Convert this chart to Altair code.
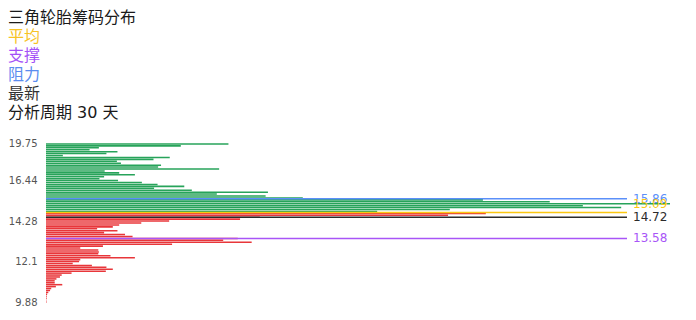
import altair as alt
import pandas as pd

# ---------------- data ----------------
header_lines = ["三角轮胎筹码分布", "平均", "支撑", "阻力", "最新", "分析周期 30 天"]
header_colors = ["#1a1a1a", "#f7c325", "#a451f7", "#5b8def", "#333333", "#1a1a1a"]

# chip share (% of axis) per price bin, listed from the highest bin (top) down
chips_above = [31.4, 23.2, 9.1, 7.5, 12.3, 10.4, 2.9, 21.3, 18.5, 12.2,
               12.9, 19.8, 19.3, 29.8, 10.1, 12.6, 15.3, 10.0, 9.2, 12.4,
               16.5, 19.2, 23.8, 18.6, 25.1, 38.2, 29.4, 37.8, 44.2, 75.2,
               86.7, 107.4, 92.4, 99.0, 69.5, 57.0]
chips_below = [75.7, 69.2, 36.8, 33.4, 21.2, 16.4, 12.6, 11.5, 8.8, 12.3,
               10.0, 13.6, 14.9, 33.0, 30.5, 35.4, 21.7, 9.8, 5.9, 9.0,
               9.1, 9.0, 11.1, 15.3, 5.9, 5.7, 4.6, 7.9, 10.4, 11.5,
               10.3, 4.4, 2.7, 2.4, 1.8, 1.5, 1.5, 2.8, 1.7, 0.9,
               0.7, 0.4, 0.2, 0.12, 0.12, 0.05, 0.1]

tick_bins = [0, 21, 42, 63, 82]
tick_labels = ["9.88", "12.1", "14.28", "16.44", "19.75"]

marker_names = ["阻力", "平均", "最新", "支撑"]
marker_prices = ["15.86", "15.09", "14.72", "13.58"]
marker_bins = [53.6, 46.5, 44.0, 33.0]
marker_colors = ["#5b8ff9", "#fbc812", "#2b2b2b", "#a855f7"]

# ---------------- tables ----------------
chips = chips_above + chips_below
n = len(chips)
bars = pd.DataFrame({
    "bin": [n - 1 - k for k in range(n)],
    "chips": chips,
    "side": ["above"] * len(chips_above) + ["below"] * len(chips_below),
})
markers = pd.DataFrame({
    "name": marker_names, "price": marker_prices,
    "bin": marker_bins, "color": marker_colors,
})

FONT = "DejaVu Sans, Noto Sans CJK SC, sans-serif"
label_expr = " : ".join(
    f"datum.value == {b} ? '{t}'" for b, t in zip(tick_bins, tick_labels)
) + " : ''"

yscale = alt.Scale(domain=[-0.5, n - 0.5], nice=False, zero=False)
xscale = alt.Scale(domain=[0, 100], nice=False, zero=True)

yaxis = alt.Axis(
    values=tick_bins, labelExpr=label_expr, title=None, ticks=False,
    domain=False, grid=False, labelPadding=9, labelFontSize=10,
    labelOverlap=False, labelBound=False, labelFlush=False,
    labelColor="#555555", labelFont=FONT)

base_bars = alt.Chart(bars).transform_calculate(
    y0="datum.bin - 0.4", y1="datum.bin + 0.4", zero="0"
).mark_rect(clip=False).encode(
    x=alt.X("zero:Q", scale=xscale, axis=None),
    x2="chips:Q",
    y=alt.Y("y0:Q", scale=yscale, axis=yaxis),
    y2="y1:Q",
    color=alt.Color("side:N", scale=alt.Scale(domain=["above", "below"],
                                              range=["#27a35a", "#e8363a"]),
                    legend=None),
)

rules = alt.Chart(markers).mark_rule(strokeWidth=1.5).encode(
    x=alt.datum(0, scale=xscale),
    x2=alt.datum(100),
    y=alt.Y("bin:Q", scale=yscale, axis=yaxis),
    color=alt.Color("color:N", scale=None),
)

labels_main = alt.Chart(markers).transform_filter(
    "datum.name != '平均'"
).mark_text(align="left", baseline="middle", dx=6, fontSize=12, font=FONT).encode(
    x=alt.datum(100, scale=xscale),
    y=alt.Y("bin:Q", scale=yscale, axis=yaxis),
    text="price:N",
    color=alt.Color("color:N", scale=None),
)
labels_avg = alt.Chart(markers).transform_filter(
    "datum.name == '平均'"
).mark_text(align="left", baseline="middle", dx=6, dy=-8, fontSize=12, font=FONT).encode(
    x=alt.datum(100, scale=xscale),
    y=alt.Y("bin:Q", scale=yscale, axis=yaxis),
    text="price:N",
    color=alt.Color("color:N", scale=None),
)

header_layers = []
for i, (txt, col) in enumerate(zip(header_lines, header_colors)):
    header_layers.append(
        alt.Chart(pd.DataFrame({"t": [txt]})).mark_text(
            align="left", baseline="middle", fontSize=16, font=FONT, color=col
        ).encode(x=alt.value(-38), y=alt.value(-125 + 19 * i), text="t:N")
    )

chart = alt.layer(base_bars, rules, labels_main, labels_avg, *header_layers).properties(
    width=581, height=160,
    autosize=alt.AutoSizeParams(type="none"),
    padding={"left": 46, "top": 143, "right": 69, "bottom": 17},
).configure_view(stroke=None).configure_axisY(labelOverlap=False)

chart.save("out.html", embed_options={"renderer": "svg", "actions": False})
